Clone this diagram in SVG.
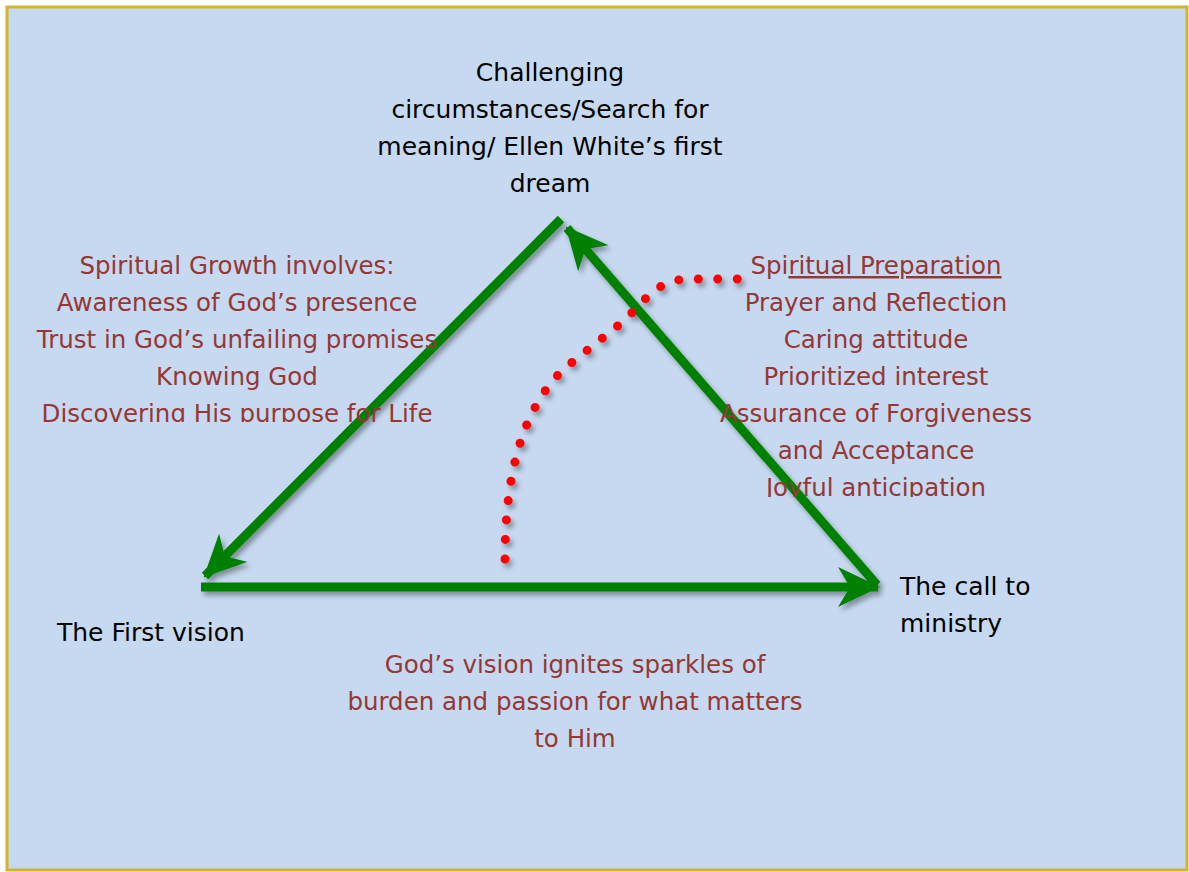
<svg xmlns="http://www.w3.org/2000/svg" width="1189" height="872" viewBox="0 0 1189 872">
<style>
.blk{font-family:"DejaVu Sans",sans-serif;font-size:25px;fill:#000;text-anchor:middle}
.red{font-family:"DejaVu Sans",sans-serif;font-size:24.5px;fill:#953735;text-anchor:middle}
.arr{stroke:#008000;stroke-width:9;fill:none}
</style>
<defs>
<filter id="sh" x="-20%" y="-20%" width="140%" height="140%">
<feDropShadow dx="3" dy="4" stdDeviation="2.5" flood-color="#000" flood-opacity="0.35"/>
</filter>
<marker id="ah" viewBox="0 0 42 40" refX="40" refY="20" markerWidth="42" markerHeight="40" markerUnits="userSpaceOnUse" orient="auto">
<path d="M0,0 L42,20 L0,40 L12,20 Z" fill="#008000"/>
</marker>
<clipPath id="clipL"><rect x="0" y="240" width="600" height="182"/></clipPath>
<clipPath id="clipR"><rect x="600" y="240" width="500" height="257"/></clipPath>
</defs>
<rect x="7" y="7" width="1180" height="863" fill="#C6D9F0" stroke="#D4B42C" stroke-width="3"/>
<g id="connectors" filter="url(#sh)">
<line class="arr" x1="561" y1="219" x2="205" y2="576" marker-end="url(#ah)"/>
<line class="arr" x1="877" y1="585" x2="567" y2="228" marker-end="url(#ah)"/>
<line class="arr" x1="201" y1="587" x2="878" y2="587" marker-end="url(#ah)"/>
<path d="M505,559 C505,480 520,410 565,368 L625,320 C648,296 660,279 690,279 L740,279" fill="none" stroke="#FF0000" stroke-width="9" stroke-linecap="round" stroke-dasharray="0 19.5"/>
</g>
<g id="node-top">
<text class="blk" x="550" y="81">Challenging</text>
<text class="blk" x="550" y="118">circumstances/Search for</text>
<text class="blk" x="550" y="155">meaning/ Ellen White’s first</text>
<text class="blk" x="550" y="192">dream</text>
</g>
<g id="node-growth" clip-path="url(#clipL)">
<text class="red" x="237" y="274">Spiritual Growth involves:</text>
<text class="red" x="237" y="311">Awareness of God’s presence</text>
<text class="red" x="237" y="348">Trust in God’s unfailing promises</text>
<text class="red" x="237" y="385">Knowing God</text>
<text class="red" x="237" y="422">Discovering His purpose for Life</text>
</g>
<g id="node-prep" clip-path="url(#clipR)">
<text class="red" x="876" y="274">Spi<tspan text-decoration="underline">ritual Preparation</tspan></text>
<text class="red" x="876" y="311">Prayer and Reflection</text>
<text class="red" x="876" y="348">Caring attitude</text>
<text class="red" x="876" y="385">Prioritized interest</text>
<text class="red" x="876" y="422">Assurance of Forgiveness</text>
<text class="red" x="876" y="459">and Acceptance</text>
<text class="red" x="876" y="496">Joyful anticipation</text>
</g>
<g id="node-first">
<text class="blk" x="57" y="641" style="text-anchor:start">The First vision</text>
</g>
<g id="node-call">
<text class="blk" x="900" y="595" style="text-anchor:start">The call to</text>
<text class="blk" x="900" y="632" style="text-anchor:start">ministry</text>
</g>
<g id="node-vision">
<text class="red" x="575" y="673">God’s vision ignites sparkles of</text>
<text class="red" x="575" y="710">burden and passion for what matters</text>
<text class="red" x="575" y="747">to Him</text>
</g>
</svg>
